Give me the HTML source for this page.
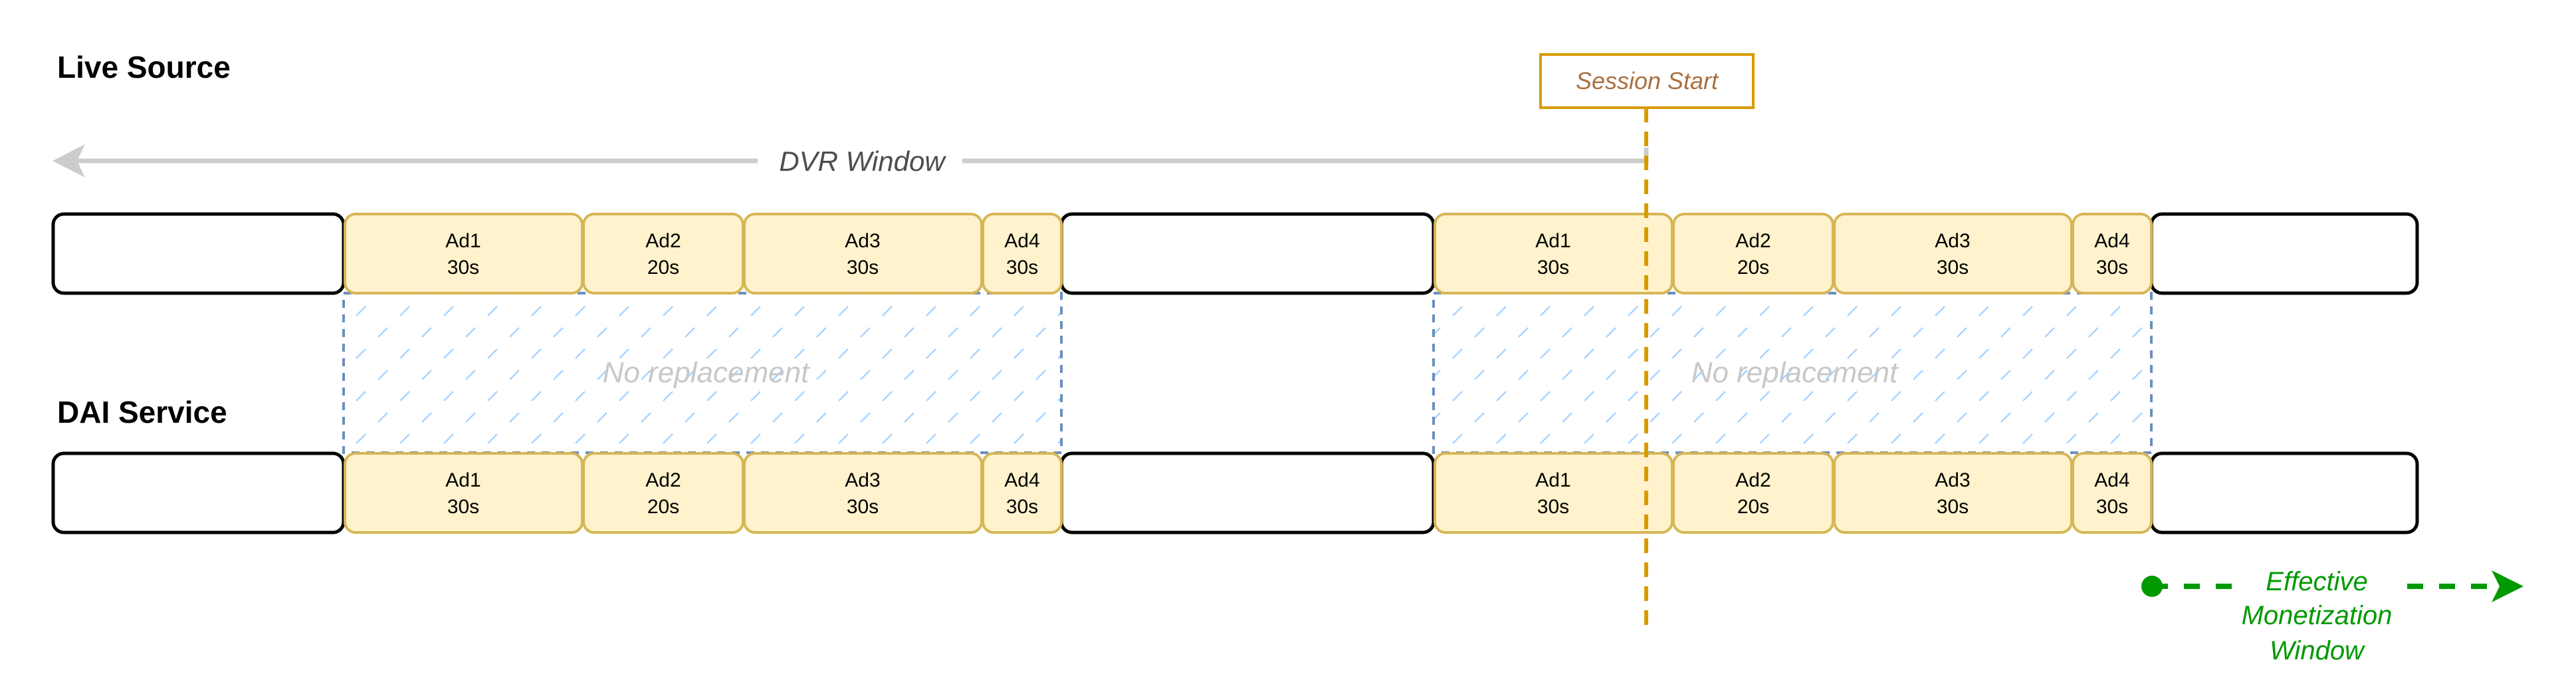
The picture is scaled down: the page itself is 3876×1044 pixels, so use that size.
<!DOCTYPE html>
<html><head><meta charset="utf-8"><style>
html,body{margin:0;padding:0;background:#fff;}
svg{display:block;}
text{font-family:"Liberation Sans",Arial,sans-serif;}
</style></head><body>
<svg width="3876" height="1044" viewBox="0 0 3876 1044" xmlns="http://www.w3.org/2000/svg">
<defs>
<pattern id="h" patternUnits="userSpaceOnUse" width="66" height="64">
<line x1="8" y1="27" x2="22" y2="13" stroke="#a8d4ff" stroke-width="2.5"/>
<line x1="41" y1="59" x2="55" y2="45" stroke="#a8d4ff" stroke-width="2.5"/>
</pattern>
</defs>
<rect width="3876" height="1044" fill="#fff"/>

<text x="86" y="117" font-size="46" font-weight="bold" fill="#000">Live Source</text>
<text x="86" y="636" font-size="46" font-weight="bold" fill="#000">DAI Service</text>

<!-- DVR arrow -->
<line x1="115" y1="242" x2="1140" y2="242" stroke="#cccccc" stroke-width="7"/>
<line x1="1448" y1="242" x2="2477" y2="242" stroke="#cccccc" stroke-width="7"/>
<line x1="2477" y1="245" x2="2477" y2="222" stroke="#cccccc" stroke-width="7"/>
<polygon points="79,242 128,217 116,242 128,267" fill="#cccccc"/>
<text x="1297" y="257" font-size="42" font-style="italic" fill="#4d4d4d" text-anchor="middle">DVR Window</text>

<!-- hatched areas -->
<rect x="517" y="441" width="1080" height="240" fill="url(#h)" stroke="#6c8ebf" stroke-width="4" stroke-dasharray="12,10"/>
<rect x="2157" y="441" width="1080" height="240" fill="url(#h)" stroke="#6c8ebf" stroke-width="4" stroke-dasharray="12,10"/>
<text x="1062" y="575" font-size="44" font-style="italic" fill="#c8c8c8" text-anchor="middle">No replacement</text>
<text x="2700" y="575" font-size="44" font-style="italic" fill="#c8c8c8" text-anchor="middle">No replacement</text>

<g id="row1">
<rect x="80" y="322" width="437" height="119" rx="16" fill="#fff" stroke="#000" stroke-width="5"/>
<rect x="1597" y="322" width="560" height="119" rx="16" fill="#fff" stroke="#000" stroke-width="5"/>
<rect x="3237" y="322" width="400" height="119" rx="16" fill="#fff" stroke="#000" stroke-width="5"/>
<g fill="#fff2cc" stroke="#d6b656" stroke-width="4">
<rect x="519" y="322" width="357" height="119" rx="16"/>
<rect x="878" y="322" width="240" height="119" rx="16"/>
<rect x="1120" y="322" width="357" height="119" rx="16"/>
<rect x="1479" y="322" width="118" height="119" rx="16"/>
<rect x="2159" y="322" width="357" height="119" rx="16"/>
<rect x="2518" y="322" width="240" height="119" rx="16"/>
<rect x="2760" y="322" width="357" height="119" rx="16"/>
<rect x="3119" y="322" width="118" height="119" rx="16"/>
</g>
<g font-size="30" fill="#000" text-anchor="middle">
<text x="697" y="372">Ad1</text><text x="697" y="412">30s</text>
<text x="998" y="372">Ad2</text><text x="998" y="412">20s</text>
<text x="1298" y="372">Ad3</text><text x="1298" y="412">30s</text>
<text x="1538" y="372">Ad4</text><text x="1538" y="412">30s</text>
<text x="2337" y="372">Ad1</text><text x="2337" y="412">30s</text>
<text x="2638" y="372">Ad2</text><text x="2638" y="412">20s</text>
<text x="2938" y="372">Ad3</text><text x="2938" y="412">30s</text>
<text x="3178" y="372">Ad4</text><text x="3178" y="412">30s</text>
</g>
</g>
<use href="#row1" y="360"/>

<!-- session start -->
<line x1="2477" y1="162" x2="2477" y2="942" stroke="#d79b00" stroke-width="6" stroke-dasharray="22,14"/>
<rect x="2318" y="82" width="320" height="80" fill="#fff" stroke="#d79b00" stroke-width="4"/>
<text x="2478" y="134" font-size="36" font-style="italic" fill="#a9703f" text-anchor="middle">Session Start</text>

<!-- effective monetization window -->
<ellipse cx="3238" cy="882" rx="16" ry="16" fill="#009900"/>
<line x1="3238" y1="882" x2="3762" y2="882" stroke="#009900" stroke-width="8" stroke-dasharray="24,24"/>
<polygon points="3797,882 3749,858 3761,882 3749,906" fill="#009900"/>
<rect x="3360" y="845" width="250" height="50" fill="#fff"/>
<g font-size="40" font-style="italic" fill="#009900" text-anchor="middle">
<text x="3486" y="888">Effective</text>
<text x="3486" y="939">Monetization</text>
<text x="3486" y="992">Window</text>
</g>
</svg>
</body></html>
